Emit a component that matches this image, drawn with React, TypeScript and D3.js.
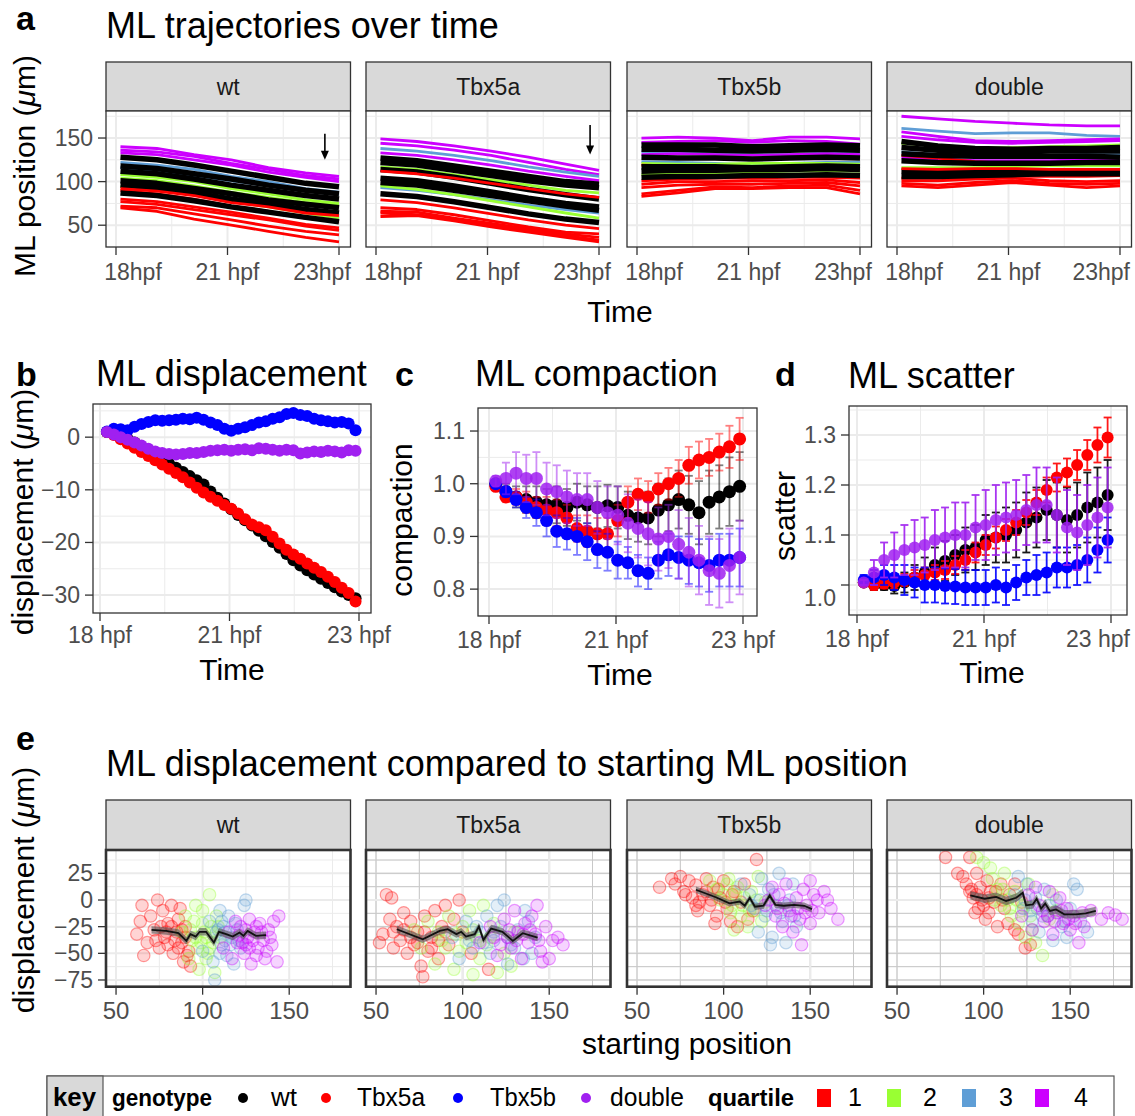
import React, { useEffect, useRef } from "react";
import * as d3 from "d3";

const FONT = "'Liberation Sans', Arial, Helvetica, sans-serif";
const NARROW = "'Liberation Sans Narrow', 'Arial Narrow', 'Liberation Sans', sans-serif";

const GENOTYPES = ["wt", "Tbx5a", "Tbx5b", "double"];
const GENO_COLORS = ["#000000", "#ff0000", "#0000ff", "#a020f0"];
const QUARTILES = ["1", "2", "3", "4"];
const QUART_COLORS = ["#ff0000", "#99ff33", "#5f9ed6", "#cc00ff"];

// time in minutes after 18 hpf
const TIME_TICKS = [0, 150, 300];
const TIME_MINOR = [75, 225];
const TIME_LABELS_A = ["18hpf", "21 hpf", "23hpf"];
const TIME_LABELS = ["18 hpf", "21 hpf", "23 hpf"];

// ---- a: ML trajectories, [quartile (0 = black track), ML position at TRAJ_TIMES]
const TRAJ_TIMES = [6, 55, 105, 155, 205, 255, 300];
const TRAJ_WT: [number, number[]][] = [
  [4, [140, 138, 131, 125, 116, 110, 106]],
  [4, [136, 134, 129, 121, 114, 107, 103]],
  [4, [133, 131, 125, 119, 111, 105, 100]],
  [3, [122, 119, 114, 106, 100, 92, 88]],
  [3, [116, 113, 107, 101, 95, 89, 85]],
  [2, [108, 105, 100, 92, 86, 79, 75]],
  [2, [104, 101, 95, 88, 82, 76, 73]],
  [2, [94, 91, 85, 77, 71, 64, 58]],
  [1, [90, 86, 80, 72, 66, 58, 54]],
  [1, [80, 77, 71, 65, 58, 51, 47]],
  [1, [77, 74, 68, 62, 56, 49, 44]],
  [1, [72, 70, 63, 56, 49, 43, 39]],
  [1, [70, 66, 57, 50, 43, 36, 31]],
  [0, [128, 125, 119, 112, 105, 98, 94]],
  [0, [118, 115, 109, 103, 96, 90, 86]],
  [0, [112, 109, 103, 96, 90, 84, 80]],
  [0, [101, 98, 92, 86, 79, 74, 70]],
  [0, [96, 93, 87, 80, 74, 68, 64]],
  [0, [87, 84, 78, 71, 65, 59, 54]],
  [1, [92, 89, 84, 76, 71, 64, 61]],
];
const TRAJ_TBX5A: [number, number[]][] = [
  [4, [149, 146, 141, 135, 128, 120, 113]],
  [4, [144, 141, 136, 130, 122, 114, 108]],
  [3, [138, 135, 130, 124, 117, 111, 106]],
  [4, [133, 130, 125, 119, 112, 106, 101]],
  [2, [117, 114, 108, 102, 96, 90, 87]],
  [3, [93, 90, 85, 79, 73, 68, 64]],
  [2, [95, 91, 85, 78, 71, 64, 58]],
  [1, [79, 76, 70, 63, 56, 50, 46]],
  [1, [70, 68, 62, 55, 48, 42, 40]],
  [1, [66, 65, 58, 52, 46, 40, 36]],
  [1, [64, 62, 57, 50, 44, 38, 33]],
  [1, [60, 61, 55, 48, 42, 36, 31]],
  [0, [127, 124, 118, 112, 106, 100, 97]],
  [0, [122, 119, 113, 107, 101, 96, 93]],
  [0, [114, 111, 105, 98, 91, 85, 80]],
  [0, [104, 101, 95, 88, 81, 75, 71]],
  [0, [99, 96, 90, 84, 78, 72, 67]],
  [0, [86, 83, 77, 70, 63, 57, 53]],
  [1, [112, 109, 104, 98, 92, 86, 82]],
];
const TRAJ_TBX5B: [number, number[]][] = [
  [4, [150, 151, 150, 147, 151, 151, 149]],
  [4, [145, 146, 147, 145, 147, 146, 143]],
  [3, [134, 133, 132, 131, 131, 133, 132]],
  [4, [131, 132, 131, 130, 131, 132, 131]],
  [3, [123, 122, 121, 119, 121, 122, 122]],
  [2, [121, 120, 120, 121, 121, 121, 120]],
  [1, [119, 118, 116, 116, 117, 117, 117]],
  [2, [108, 109, 110, 111, 112, 112, 112]],
  [1, [101, 103, 104, 104, 105, 105, 104]],
  [1, [97, 100, 100, 101, 101, 102, 99]],
  [1, [93, 96, 97, 97, 98, 99, 95]],
  [1, [86, 90, 94, 93, 95, 96, 90]],
  [1, [83, 87, 92, 92, 93, 93, 86]],
  [0, [142, 142, 142, 140, 141, 142, 141]],
  [0, [137, 137, 136, 135, 136, 137, 136]],
  [0, [128, 127, 127, 126, 127, 128, 127]],
  [0, [117, 117, 117, 116, 117, 118, 117]],
  [0, [112, 113, 113, 114, 114, 115, 114]],
  [0, [105, 106, 106, 107, 107, 108, 107]],
];
const TRAJ_DOUBLE: [number, number[]][] = [
  [4, [175, 172, 169, 167, 165, 164, 164]],
  [3, [161, 158, 155, 156, 156, 153, 152]],
  [4, [157, 152, 147, 146, 147, 148, 149]],
  [4, [152, 148, 145, 144, 145, 146, 147]],
  [2, [144, 141, 139, 139, 140, 141, 142]],
  [3, [134, 131, 130, 129, 130, 131, 131]],
  [4, [127, 126, 124, 124, 124, 125, 126]],
  [1, [130, 127, 123, 121, 120, 120, 119]],
  [2, [116, 116, 116, 117, 118, 118, 118]],
  [1, [104, 104, 105, 106, 106, 106, 107]],
  [1, [101, 101, 103, 104, 101, 100, 101]],
  [1, [98, 96, 99, 101, 98, 97, 98]],
  [1, [95, 93, 96, 99, 96, 93, 95]],
  [0, [146, 141, 138, 137, 138, 138, 139]],
  [0, [139, 136, 134, 134, 135, 135, 135]],
  [0, [132, 130, 129, 129, 129, 129, 128]],
  [0, [124, 122, 121, 121, 121, 122, 122]],
  [0, [112, 111, 111, 112, 112, 112, 112]],
  [0, [106, 106, 107, 108, 109, 109, 109]],
  [1, [115, 114, 115, 115, 114, 114, 114]],
];
const TRAJ = [TRAJ_WT, TRAJ_TBX5A, TRAJ_TBX5B, TRAJ_DOUBLE];
// arrows in a: [panel, time, from, to]
const ARROWS: [number, number, number, number][] = [
  [0, 281, 155, 125],
  [1, 288, 165, 131],
];

// ---- b: ML displacement
const TIMES_B = [8, 16, 24, 32, 40, 48, 56, 64, 72, 80, 88, 96, 104, 112, 120, 128, 136, 144, 152, 160, 168, 176, 184, 192, 200, 208, 216, 224, 232, 240, 248, 256, 264, 272, 280, 288, 296];
const B_WT = [1.0, 0.7, 0.3, -0.3, -1.0, -1.8, -2.6, -3.4, -4.2, -5.0, -5.8, -6.6, -7.4, -8.2, -9.0, -10.3, -11.5, -12.6, -13.7, -14.8, -15.8, -16.8, -17.8, -18.8, -19.9, -21.0, -22.2, -23.4, -24.4, -25.3, -26.1, -26.9, -27.7, -28.5, -29.3, -30.0, -30.6];
const B_TBX5A = [1.0, 0.4, -0.4, -1.2, -2.0, -2.8, -3.6, -4.4, -5.2, -6.0, -6.8, -7.6, -8.6, -9.6, -10.5, -11.3, -12.1, -12.9, -13.6, -14.5, -15.6, -16.6, -17.1, -17.7, -18.9, -20.2, -21.4, -22.3, -23.1, -24.0, -24.8, -25.6, -26.5, -27.5, -28.6, -29.6, -31.2];
const B_TBX5B = [1.1, 1.6, 1.5, 1.3, 2.0, 2.5, 2.9, 3.2, 3.1, 3.2, 3.3, 3.5, 3.4, 3.7, 3.3, 2.8, 2.3, 1.6, 1.2, 1.6, 1.9, 2.3, 2.8, 3.0, 3.5, 3.8, 4.4, 4.6, 4.2, 4.0, 3.5, 3.2, 3.0, 2.8, 2.9, 2.6, 1.3];
const B_DOUBLE = [1.0, 0.5, 0.0, -0.5, -1.0, -1.6, -2.2, -2.7, -3.0, -3.2, -3.3, -3.2, -3.0, -3.0, -2.8, -2.6, -2.5, -2.4, -2.6, -2.4, -2.3, -2.5, -2.1, -2.2, -2.4, -2.6, -2.4, -2.5, -3.1, -2.9, -2.7, -2.8, -2.6, -2.7, -2.9, -2.5, -2.6];
const B_SERIES = [B_WT, B_TBX5A, B_TBX5B, B_DOUBLE];
const B_TICKS = [-30, -20, -10, 0];

// ---- c / d: compaction and scatter, mean and error
const TIMES_CD = [8, 20, 32, 44, 56, 68, 80, 92, 104, 116, 128, 140, 152, 164, 176, 188, 200, 212, 224, 236, 248, 260, 272, 284, 296];
const C_WT = [1.0, 0.985, 0.975, 0.97, 0.965, 0.96, 0.96, 0.955, 0.965, 0.96, 0.955, 0.958, 0.955, 0.94, 0.935, 0.935, 0.95, 0.96, 0.97, 0.96, 0.945, 0.965, 0.975, 0.985, 0.995];
const C_WT_ERR = [0.005, 0.015, 0.02, 0.025, 0.03, 0.03, 0.035, 0.035, 0.035, 0.035, 0.04, 0.04, 0.04, 0.045, 0.045, 0.05, 0.05, 0.05, 0.055, 0.055, 0.06, 0.06, 0.06, 0.065, 0.065];
const C_TBX5A = [0.995, 0.975, 0.975, 0.965, 0.955, 0.95, 0.945, 0.935, 0.915, 0.91, 0.905, 0.905, 0.93, 0.965, 0.98, 0.975, 0.99, 1.0, 1.01, 1.035, 1.045, 1.05, 1.06, 1.07, 1.085];
const C_TBX5A_ERR = [0.005, 0.01, 0.015, 0.02, 0.02, 0.025, 0.025, 0.025, 0.025, 0.03, 0.03, 0.03, 0.03, 0.03, 0.03, 0.03, 0.03, 0.03, 0.035, 0.035, 0.035, 0.035, 0.035, 0.04, 0.04];
const C_TBX5B = [1.0, 0.985, 0.97, 0.955, 0.945, 0.93, 0.91, 0.905, 0.9, 0.89, 0.875, 0.87, 0.855, 0.85, 0.835, 0.83, 0.855, 0.865, 0.86, 0.855, 0.85, 0.845, 0.855, 0.855, 0.86];
const C_TBX5B_ERR = [0.005, 0.01, 0.015, 0.02, 0.025, 0.03, 0.03, 0.03, 0.035, 0.035, 0.035, 0.035, 0.035, 0.03, 0.03, 0.03, 0.035, 0.04, 0.04, 0.045, 0.045, 0.05, 0.05, 0.05, 0.055];
const C_DOUBLE = [1.005, 1.01, 1.02, 1.01, 1.01, 0.99, 0.985, 0.975, 0.97, 0.97, 0.955, 0.945, 0.94, 0.925, 0.915, 0.905, 0.895, 0.9, 0.885, 0.87, 0.855, 0.835, 0.83, 0.845, 0.86];
const C_DOUBLE_ERR = [0.01, 0.03, 0.04, 0.045, 0.05, 0.05, 0.05, 0.05, 0.05, 0.05, 0.05, 0.05, 0.055, 0.055, 0.055, 0.06, 0.06, 0.06, 0.065, 0.065, 0.065, 0.065, 0.065, 0.07, 0.07];
const C_MEANS = [C_WT, C_TBX5A, C_TBX5B, C_DOUBLE];
const C_ERRS = [C_WT_ERR, C_TBX5A_ERR, C_TBX5B_ERR, C_DOUBLE_ERR];
const C_TICKS = [0.8, 0.9, 1.0, 1.1];

const D_WT = [1.005, 1.0, 1.0, 0.998, 1.005, 1.015, 1.025, 1.04, 1.048, 1.06, 1.07, 1.075, 1.09, 1.095, 1.1, 1.11, 1.125, 1.135, 1.15, 1.14, 1.13, 1.14, 1.155, 1.165, 1.18];
const D_WT_ERR = [0.005, 0.01, 0.01, 0.015, 0.02, 0.025, 0.03, 0.035, 0.04, 0.04, 0.045, 0.045, 0.05, 0.05, 0.055, 0.055, 0.06, 0.06, 0.06, 0.065, 0.065, 0.065, 0.07, 0.07, 0.07];
const D_TBX5A = [1.005, 1.0, 1.003, 1.005, 1.01, 1.015, 1.02, 1.025, 1.03, 1.04, 1.05, 1.065, 1.08, 1.095, 1.11, 1.125, 1.145, 1.165, 1.19, 1.215, 1.225, 1.24, 1.26, 1.28, 1.295];
const D_TBX5A_ERR = [0.005, 0.01, 0.01, 0.012, 0.012, 0.015, 0.015, 0.015, 0.018, 0.018, 0.02, 0.02, 0.02, 0.022, 0.022, 0.025, 0.025, 0.025, 0.025, 0.028, 0.028, 0.03, 0.03, 0.035, 0.04];
const D_TBX5B = [1.01, 1.015, 1.02, 1.015, 1.01, 1.005, 1.0, 1.0, 0.998, 0.997, 0.995, 0.995, 0.995, 1.0, 0.995, 1.005, 1.015, 1.02, 1.025, 1.035, 1.035, 1.04, 1.05, 1.07, 1.09];
const D_TBX5B_ERR = [0.01, 0.015, 0.02, 0.025, 0.03, 0.03, 0.035, 0.035, 0.035, 0.035, 0.035, 0.035, 0.035, 0.035, 0.035, 0.035, 0.035, 0.04, 0.04, 0.04, 0.04, 0.04, 0.045, 0.045, 0.045];
const D_DOUBLE = [1.005, 1.025, 1.05, 1.06, 1.07, 1.075, 1.08, 1.09, 1.095, 1.1, 1.1, 1.115, 1.12, 1.13, 1.135, 1.14, 1.15, 1.16, 1.16, 1.14, 1.115, 1.105, 1.12, 1.135, 1.155];
const D_DOUBLE_ERR = [0.005, 0.025, 0.035, 0.045, 0.05, 0.055, 0.055, 0.06, 0.06, 0.065, 0.065, 0.065, 0.07, 0.07, 0.07, 0.07, 0.07, 0.075, 0.075, 0.075, 0.075, 0.075, 0.08, 0.08, 0.08];
const D_MEANS = [D_WT, D_TBX5A, D_TBX5B, D_DOUBLE];
const D_ERRS = [D_WT_ERR, D_TBX5A_ERR, D_TBX5B_ERR, D_DOUBLE_ERR];
const D_TICKS = [1.0, 1.1, 1.2, 1.3];

// ---- e: displacement vs starting position, points per quartile [start, displacement]
const E_WT: number[][][] = [
  [[62, -32], [64, -20], [65, -5], [66, -52], [68, -40], [70, -15], [72, -28], [74, 0], [75, -45], [77, -10], [78, -35], [80, -22], [82, -5], [83, -50], [85, -30], [86, -18], [88, -40], [89, -58], [90, -25], [92, -48], [93, -62], [80, -42], [76, -25], [87, -8],
    [84, -38], [86, -45], [88, -28], [90, -35], [91, -52], [82, -25], [79, -30], [73, -38]],
  [[88, -30], [90, -15], [92, -55], [94, -38], [95, -20], [97, -45], [98, -65], [100, -10], [101, -30], [103, -50], [104, 5], [105, -25], [106, -40], [107, -68], [108, -15], [110, -35], [96, -5], [102, -55],
    [93, -28], [96, -35], [99, -40], [100, -22], [102, -35], [104, -45], [106, -30], [109, -25]],
  [[100, -48], [104, -20], [106, -58], [108, -30], [110, -10], [111, -42], [112, -25], [114, -52], [115, -15], [117, -35], [118, -60], [120, -28], [122, -45], [124, -5], [125, 0], [107, -75], [113, -38],
    [109, -28], [111, -20], [113, -30], [116, -42], [119, -22], [121, -38], [110, -50]],
  [[112, -45], [115, -30], [117, -55], [119, -20], [120, -40], [122, -25], [124, -50], [126, -35], [127, -18], [128, -60], [130, -30], [132, -45], [133, -22], [135, -38], [136, -55], [138, -28], [140, -42], [141, -20], [143, -58], [144, -15], [125, -42], [131, -52],
    [121, -33], [123, -40], [125, -28], [127, -45], [129, -38], [131, -25], [134, -30], [137, -48], [139, -35]],
];
const E_TBX5A: number[][][] = [
  [[52, -40], [54, -32], [56, 5], [58, -18], [59, 2], [60, -45], [62, -25], [64, -38], [66, -12], [68, -50], [70, -20], [72, -42], [74, -30], [76, -62], [77, -72], [78, -15], [80, -48], [82, -35], [84, -10], [86, -55], [88, -25], [90, -5], [92, -42], [95, -18], [98, 0], [100, -30], [105, -50], [115, -65],
    [60, -30], [66, -28], [70, -35], [74, -40], [78, -30], [82, -45], [86, -38], [90, -30]],
  [[72, -28], [76, -45], [80, -20], [84, -60], [88, -38], [92, -15], [95, -65], [98, -48], [100, -25], [104, -10], [106, -70], [108, -35], [110, -55], [112, -5], [114, -42], [118, -22], [120, -68], [124, -50], [128, -62], [130, -30],
    [86, -30], [90, -45], [96, -32], [102, -40], [106, -28], [110, -38], [116, -35]],
  [[94, -35], [98, -55], [102, -20], [106, -45], [110, -30], [114, -15], [116, -50], [118, -38], [120, -5], [122, -25], [124, 0], [126, -60], [128, -42], [132, -28], [135, -55], [138, -20], [140, -50], [142, -35], [136, -10],
    [104, -38], [108, -25], [112, -40], [118, -30], [126, -35], [130, -45]],
  [[110, -40], [116, -25], [120, -52], [124, -18], [126, -35], [128, -45], [130, -10], [132, -30], [134, -55], [136, -22], [138, -40], [140, -15], [142, -32], [145, -48], [148, -25], [150, -55], [152, -38], [155, -35], [158, -42], [146, -58], [143, -5],
    [118, -35], [122, -42], [127, -28], [131, -38], [135, -32], [139, -28], [144, -38]],
];
const E_TBX5B: number[][][] = [
  [[63, 12], [70, 20], [72, 15], [75, 22], [77, 8], [80, 18], [82, 2], [84, 14], [85, -10], [88, 5], [90, 20], [92, -5], [94, 12], [96, -15], [98, 2], [100, 18], [102, -8], [104, -20], [106, 8], [108, -25], [110, -2], [112, 15], [114, -18], [117, -10], [119, 38], [95, -22], [86, -2],
    [78, 5], [84, -5], [90, 8], [93, 0], [97, 10], [101, -2], [105, 5]],
  [[92, 18], [96, 10], [100, 5], [103, 20], [105, -5], [108, 12], [110, -15], [112, 2], [114, -25], [116, 8], [118, -10], [120, 22], [122, -20], [124, -2], [106, -28], [102, 15],
    [98, 0], [104, -12], [107, 5], [111, -5], [115, -10], [119, 0]],
  [[110, 15], [115, 5], [118, -8], [120, -30], [122, 20], [124, -15], [126, 10], [128, -35], [130, -5], [132, 25], [134, -20], [136, -40], [138, 0], [140, 15], [142, -25], [127, -42],
    [116, -5], [121, 0], [125, -10], [129, 5], [133, -12], [137, -5], [141, -15]],
  [[124, -5], [128, 12], [130, -15], [132, 5], [134, -25], [136, 15], [138, -10], [140, -30], [142, 2], [144, -18], [146, 10], [148, -5], [150, -22], [152, 5], [155, -12], [158, 8], [160, 0], [162, -8], [166, -18], [145, -42], [150, 18],
    [126, 0], [131, -8], [135, -3], [139, -15], [143, -8], [147, -12], [151, -10], [154, 0]],
];
const E_DOUBLE: number[][][] = [
  [[78, 40], [92, 40], [85, 25], [88, 22], [90, 15], [92, 8], [94, 2], [95, -12], [96, 25], [98, 12], [100, -5], [101, -18], [102, 18], [104, 8], [106, -2], [108, -25], [110, 15], [112, -8], [114, -22], [118, -28], [118, 15], [120, -32], [122, -2], [97, -8], [103, -12], [127, -42], [124, -45],
    [93, 10], [96, 5], [99, 0], [103, 2], [107, 8], [111, 0], [115, 5]],
  [[96, 40], [100, 35], [104, 30], [105, 20], [108, 10], [110, -5], [112, 25], [114, 0], [116, -15], [118, 8], [120, -22], [122, -10], [124, -35], [126, 15], [128, -28], [130, -40], [134, -52], [140, 5], [142, -10], [138, -18],
    [106, 0], [111, 10], [115, -8], [119, 0], [123, -5], [127, -15]],
  [[118, 5], [120, 22], [123, -8], [125, 15], [128, -20], [130, 2], [132, -30], [135, 10], [137, -15], [140, -38], [142, 0], [145, -25], [148, -35], [150, -8], [152, 15], [154, 10], [156, -20], [160, -30],
    [124, 0], [127, -10], [131, -8], [134, -15], [138, -5], [143, -12], [147, -20]],
  [[122, -15], [126, 5], [128, -28], [130, 12], [132, -5], [135, -20], [138, 8], [140, -32], [142, -12], [144, 2], [146, -22], [148, -8], [150, -28], [152, -15], [155, -40], [158, -25], [162, -10], [168, -18], [172, -12], [176, -14], [180, -18],
    [134, -10], [137, -15], [141, -20], [145, -10], [149, -18], [153, -22], [157, -12]],
];
const E_POINTS = [E_WT, E_TBX5A, E_TBX5B, E_DOUBLE];
// running mean [start, displacement]
const E_LINE_WT = [[70.5, -28], [79, -29], [86, -31], [90.6, -38.3], [93, -32], [96, -34.3], [98.3, -29.8], [102, -29.8], [106.5, -39.9], [109.4, -29.8], [113.6, -32], [117.4, -34.3], [121.3, -30.5], [123.6, -33.6], [126, -29], [130.8, -33.6], [136.6, -33]];
const E_LINE_TBX5A = [[62, -27.4], [77, -36.8], [86.8, -29], [91.4, -27.4], [96.4, -32], [99.2, -29.8], [102, -34.3], [107, -32], [109.4, -24.9], [112, -37.4], [116.5, -26.8], [123, -29.8], [129, -38.3], [134.7, -31.1], [143.3, -35.2]];
const E_LINE_TBX5B = [[84, 9.6], [95.5, 2.6], [103.4, -3.2], [109.3, -1.4], [112.2, -5.4], [115.1, 2], [118.1, -6.3], [123, -5.4], [126.6, 4.2], [129.9, -4.5], [134.8, -5.4], [140.7, -4.5], [146.6, -5.4], [151, -8.6]];
const E_LINE_DOUBLE = [[92.3, 4.4], [100.6, 1.2], [107.3, 3], [113, -0.9], [118.8, 2.1], [122.6, 6.8], [124.5, -5], [128.4, -4.2], [130.6, 1.2], [133.2, -8.1], [135.6, -3.3], [138.3, -10.3], [141.8, -8.8], [146.6, -13.4], [153.3, -13.4], [159, -12.5], [164.8, -10.3]];
const E_LINES = [E_LINE_WT, E_LINE_TBX5A, E_LINE_TBX5B, E_LINE_DOUBLE];
const E_SE = [3.5, 3.5, 3, 4];
const E_X_TICKS = [50, 100, 150];
const E_Y_TICKS = [-75, -50, -25, 0, 25];

type G = d3.Selection<SVGGElement, unknown, null, undefined>;

const fmt = (v: number, d = 0) => (v < 0 ? "\u2212" : "") + Math.abs(v).toFixed(d);

function hline(g: G, x1: number, x2: number, y: number, c: string, w: number) {
  g.append("line").attr("x1", x1).attr("x2", x2).attr("y1", y).attr("y2", y).attr("stroke", c).attr("stroke-width", w);
}
function vline(g: G, x: number, y1: number, y2: number, c: string, w: number) {
  g.append("line").attr("x1", x).attr("x2", x).attr("y1", y1).attr("y2", y2).attr("stroke", c).attr("stroke-width", w);
}
function txt(g: G, x: number, y: number, s: string, size: number, o: any = {}) {
  const t = g.append("text").attr("x", x).attr("y", y).text(s)
    .attr("font-family", o.family || FONT).attr("font-size", size)
    .attr("fill", o.color || "#000").attr("text-anchor", o.anchor || "start")
    .attr("font-weight", o.weight || "normal");
  if (o.rotate) t.attr("transform", `rotate(-90 ${x} ${y})`);
  if (o.len) t.attr("textLength", o.len).attr("lengthAdjust", "spacingAndGlyphs");
  return t;
}
function muTitle(g: G, x: number, y: number, pre: string, size: number) {
  const t = g.append("text").attr("x", x).attr("y", y).attr("font-family", FONT).attr("font-size", size)
    .attr("text-anchor", "middle").attr("transform", `rotate(-90 ${x} ${y})`);
  t.append("tspan").text(pre + " (");
  t.append("tspan").attr("font-style", "italic").text("\u03bc");
  t.append("tspan").text("m)");
}
function gridBg(g: G, x0: number, y0: number, w: number, h: number, xs: any, ys: any,
  majX: number[], minX: number[], majY: number[], minY: number[]) {
  g.append("rect").attr("x", x0).attr("y", y0).attr("width", w).attr("height", h).attr("fill", "#fff");
  minX.forEach((v) => vline(g, xs(v), y0, y0 + h, "#ebebeb", 1));
  minY.forEach((v) => hline(g, x0, x0 + w, ys(v), "#ebebeb", 1));
  majX.forEach((v) => vline(g, xs(v), y0, y0 + h, "#ebebeb", 2));
  majY.forEach((v) => hline(g, x0, x0 + w, ys(v), "#ebebeb", 2));
}
function frame(g: G, x0: number, y0: number, w: number, h: number, sw = 1.3) {
  g.append("rect").attr("x", x0).attr("y", y0).attr("width", w).attr("height", h)
    .attr("fill", "none").attr("stroke", "#333").attr("stroke-width", sw);
}
function strip(g: G, x0: number, y0: number, w: number, h: number, label: string) {
  g.append("rect").attr("x", x0).attr("y", y0).attr("width", w).attr("height", h)
    .attr("fill", "#d9d9d9").attr("stroke", "#333").attr("stroke-width", 1.3);
  txt(g, x0 + w / 2, y0 + h / 2 + 8, label, 23, { anchor: "middle", color: "#1a1a1a" });
}
function yTicks(g: G, x0: number, ys: any, vals: number[], labels: string[], shift: number[] = []) {
  vals.forEach((v, i) => {
    hline(g, x0 - 8, x0, ys(v), "#333", 1.3);
    txt(g, x0 - 13, ys(v) + 8 + (shift[i] || 0), labels[i], 23, { anchor: "end", color: "#4d4d4d" });
  });
}
function xTicks(g: G, y0: number, xs: any, vals: number[], labels: string[], base: number, offs: number[] = [], size = 23) {
  vals.forEach((v, i) => {
    vline(g, xs(v), y0, y0 + 8, "#333", 1.3);
    const t = txt(g, xs(v) + (offs[i] || 0), base, labels[i], size, { anchor: "middle", color: "#4d4d4d" });
    const node = t.node() as SVGTextElement;
    const wd = node.getComputedTextLength();
    const x = xs(v) + (offs[i] || 0);
    if (x + wd / 2 > 1130) t.attr("x", 1130 - wd / 2);
  });
}

export default function App() {
  const ref = useRef<SVGSVGElement>(null);
  useEffect(() => {
    document.body.style.margin = "0";
    const svg = d3.select(ref.current as SVGSVGElement);
    svg.selectAll("*").remove();
    const root = svg.append("g") as unknown as G;

    // ================= a =================
    txt(root, 16, 30, "a", 34, { weight: "bold" });
    txt(root, 106, 38, "ML trajectories over time", 36);
    const FX = [106, 366, 627, 887];
    const FW = 244.5;
    const yA = d3.scaleLinear().domain([25, 181]).range([247, 111]);
    FX.forEach((x0, i) => {
      const xA = d3.scaleLinear().domain([0, 300]).range([x0 + 10, x0 + 233]);
      strip(root, x0, 62, FW, 49, GENOTYPES[i]);
      gridBg(root, x0, 111, FW, 136, xA, yA, TIME_TICKS, TIME_MINOR, [50, 100, 150], [25, 75, 125, 175]);
      const line = d3.line<number>().x((_, k) => xA(TRAJ_TIMES[k])).y((d) => yA(d));
      TRAJ[i].forEach(([q, vals]) => {
        root.append("path").attr("d", line(vals) as string).attr("fill", "none")
          .attr("stroke", q === 0 ? "#000" : QUART_COLORS[q - 1])
          .attr("stroke-width", q === 0 ? 5.5 : 2.8).attr("stroke-linejoin", "round");
      });
      ARROWS.filter((a) => a[0] === i).forEach(([, t, y1, y2]) => {
        const ax = xA(t), ay1 = yA(y1), ay2 = yA(y2);
        vline(root, ax, ay1, ay2 - 6, "#000", 1.6);
        root.append("path").attr("d", `M${ax - 4},${ay2 - 9} L${ax},${ay2} L${ax + 4},${ay2 - 9} Z`).attr("fill", "#000");
      });
      frame(root, x0, 111, FW, 136);
      xTicks(root, 247, xA, TIME_TICKS, TIME_LABELS_A, 280, [17, 0, -17]);
      if (i === 0) yTicks(root, x0, yA, [50, 100, 150], ["50", "100", "150"]);
    });
    muTitle(root, 35, 166, "ML position", 30);
    txt(root, 620, 322, "Time", 30, { anchor: "middle" });

    // ================= b =================
    txt(root, 16, 386, "b", 34, { weight: "bold" });
    txt(root, 96, 386, "ML displacement", 36);
    const xB = d3.scaleLinear().domain([0, 300]).range([100, 359]);
    const yB = d3.scaleLinear().domain([-33.4, 6.3]).range([613, 404]);
    gridBg(root, 93, 404, 278, 209, xB, yB, TIME_TICKS, TIME_MINOR, B_TICKS, [-25, -15, -5, 5]);
    B_SERIES.forEach((ser, s) => {
      ser.forEach((v, k) => {
        root.append("circle").attr("cx", xB(TIMES_B[k])).attr("cy", yB(v)).attr("r", 6).attr("fill", GENO_COLORS[s]);
      });
    });
    frame(root, 93, 404, 278, 209);
    yTicks(root, 93, yB, B_TICKS, B_TICKS.map((v) => fmt(v)));
    xTicks(root, 613, xB, TIME_TICKS, TIME_LABELS, 643);
    muTitle(root, 33, 512, "displacement", 30);
    txt(root, 232, 680, "Time", 30, { anchor: "middle" });

    // ================= c / d =================
    const errPanel = (box: number[], xr: number[], ydom: number[], means: number[][], errs: number[][],
      majY: number[], minY: number[], r: number, errOp: number) => {
      const [bx, by, bw, bh] = box;
      const xs = d3.scaleLinear().domain([0, 300]).range(xr);
      const ys = d3.scaleLinear().domain(ydom).range([by + bh, by]);
      gridBg(root, bx, by, bw, bh, xs, ys, TIME_TICKS, TIME_MINOR, majY, minY);
      means.forEach((ser, s) => {
        const g = root.append("g") as unknown as G;
        ser.forEach((m, k) => {
          const x = xs(TIMES_CD[k]), lo = ys(m - errs[s][k]), hi = ys(m + errs[s][k]);
          const eg = g.append("g").attr("opacity", errOp) as unknown as G;
          vline(eg, x, lo, hi, GENO_COLORS[s], 1.8);
          hline(eg, x - 4, x + 4, lo, GENO_COLORS[s], 1.8);
          hline(eg, x - 4, x + 4, hi, GENO_COLORS[s], 1.8);
        });
        ser.forEach((m, k) => {
          g.append("circle").attr("cx", xs(TIMES_CD[k])).attr("cy", ys(m)).attr("r", r)
            .attr("fill", GENO_COLORS[s]).attr("opacity", s === 3 ? 0.85 : 1);
        });
      });
      frame(root, bx, by, bw, bh);
      return { xs, ys };
    };

    txt(root, 395, 386, "c", 34, { weight: "bold" });
    txt(root, 475, 386, "ML compaction", 36);
    const c = errPanel([478, 408, 279, 208], [489, 743], [0.749, 1.1437], C_MEANS, C_ERRS,
      C_TICKS, [0.75, 0.85, 0.95, 1.05], 6.5, 0.5);
    yTicks(root, 478, c.ys, C_TICKS, C_TICKS.map((v) => v.toFixed(1)));
    xTicks(root, 616, c.xs, TIME_TICKS, TIME_LABELS, 648);
    txt(root, 412, 520, "compaction", 30, { anchor: "middle", rotate: true });
    txt(root, 620, 685, "Time", 30, { anchor: "middle" });

    txt(root, 775, 386, "d", 34, { weight: "bold" });
    txt(root, 848, 388, "ML scatter", 36);
    const d = errPanel([849, 406, 278, 209], [857, 1111], [0.94, 1.358], D_MEANS, D_ERRS,
      D_TICKS, [0.95, 1.05, 1.15, 1.25, 1.35], 6, 0.9);
    yTicks(root, 849, d.ys, D_TICKS, D_TICKS.map((v) => v.toFixed(1)), [13, 0, 0, 0]);
    xTicks(root, 615, d.xs, TIME_TICKS, TIME_LABELS, 647);
    txt(root, 795, 516, "scatter", 30, { anchor: "middle", rotate: true });
    txt(root, 992, 683, "Time", 30, { anchor: "middle" });

    // ================= e =================
    txt(root, 16, 750, "e", 34, { weight: "bold" });
    txt(root, 106, 776, "ML displacement compared to starting ML position", 36);
    const yE = d3.scaleLinear().domain([-81.3, 46.9]).range([986.7, 850]);
    FX.forEach((x0, i) => {
      const xE = d3.scaleLinear().domain([44.2, 185.4]).range([x0, x0 + FW]);
      strip(root, x0, 800, FW, 50, GENOTYPES[i]);
      gridBg(root, x0, 850, FW, 136.7, xE, yE, E_X_TICKS, [75, 125, 175], E_Y_TICKS, [-62.5, -37.5, -12.5, 12.5, 37.5]);
      if (i > 0) {
        [50, 75, 100, 125, 150, 175].forEach((v) => vline(root, xE(v), 850, 986.7, "#c8c8c8", 1));
        [-75, -62.5, -50, -37.5, -25, -12.5, 12.5, 25, 37.5].forEach((v) => hline(root, x0, x0 + FW, yE(v), "#c8c8c8", 1));
        [100, 150].forEach((v) => vline(root, xE(v), 850, 986.7, "#ebebeb", 2.2));
        hline(root, x0, x0 + FW, yE(0), "#ebebeb", 2.2);
      }
      E_POINTS[i].forEach((pts, q) => {
        pts.forEach(([sx, dy]) => {
          root.append("circle").attr("cx", xE(sx)).attr("cy", yE(dy)).attr("r", 6.2)
            .attr("fill", QUART_COLORS[q]).attr("fill-opacity", 0.17)
            .attr("stroke", QUART_COLORS[q]).attr("stroke-opacity", 0.38).attr("stroke-width", 1.2);
        });
      });
      const se = E_SE[i];
      const area = d3.area<number[]>().x((p) => xE(p[0])).y0((p) => yE(p[1] - se)).y1((p) => yE(p[1] + se));
      root.append("path").attr("d", area(E_LINES[i]) as string).attr("fill", "#555").attr("opacity", 0.6);
      const ln = d3.line<number[]>().x((p) => xE(p[0])).y((p) => yE(p[1]));
      root.append("path").attr("d", ln(E_LINES[i]) as string).attr("fill", "none").attr("stroke", "#111").attr("stroke-width", 1.8);
      frame(root, x0, 850, FW, 136.7, 2.6);
      xTicks(root, 986.7, xE, E_X_TICKS, E_X_TICKS.map((v) => String(v)), 1019, [], 24);
      if (i === 0) yTicks(root, x0, yE, E_Y_TICKS, E_Y_TICKS.map((v) => fmt(v)));
    });
    muTitle(root, 34, 890, "displacement", 30);
    txt(root, 687, 1054, "starting position", 30, { anchor: "middle" });

    // ================= legend =================
    const LY = 1106;
    root.append("rect").attr("x", 47).attr("y", 1076).attr("width", 1067).attr("height", 60)
      .attr("fill", "#fff").attr("stroke", "#555").attr("stroke-width", 1.2);
    root.append("rect").attr("x", 47).attr("y", 1076).attr("width", 56).attr("height", 60)
      .attr("fill", "#d9d9d9").attr("stroke", "#555").attr("stroke-width", 1.2);
    txt(root, 53, LY, "key", 26, { family: NARROW, weight: "bold", len: 43 });
    txt(root, 112, LY, "genotype", 24, { family: NARROW, weight: "bold", len: 100 });
    const gx = [243, 326, 458, 586];
    const gtx = [271, 357, 490, 610];
    const gl = [26, 68, 66, 74];
    GENOTYPES.forEach((gname, i) => {
      root.append("circle").attr("cx", gx[i]).attr("cy", 1098).attr("r", 5).attr("fill", GENO_COLORS[i]);
      txt(root, gtx[i], LY, gname, 25, { family: NARROW, len: gl[i] });
    });
    txt(root, 708, LY, "quartile", 24, { family: NARROW, weight: "bold", len: 86 });
    const qx = [824, 894, 969, 1042];
    const qtx = [855, 930, 1006, 1081];
    QUARTILES.forEach((qn, i) => {
      root.append("rect").attr("x", qx[i] - 7).attr("y", 1089).attr("width", 14).attr("height", 18).attr("fill", QUART_COLORS[i]);
      txt(root, qtx[i], LY, qn, 25, { family: NARROW, anchor: "middle" });
    });
  }, []);
  return <svg ref={ref} width={1135} height={1116} style={{ display: "block", background: "#fff" }} />;
}
